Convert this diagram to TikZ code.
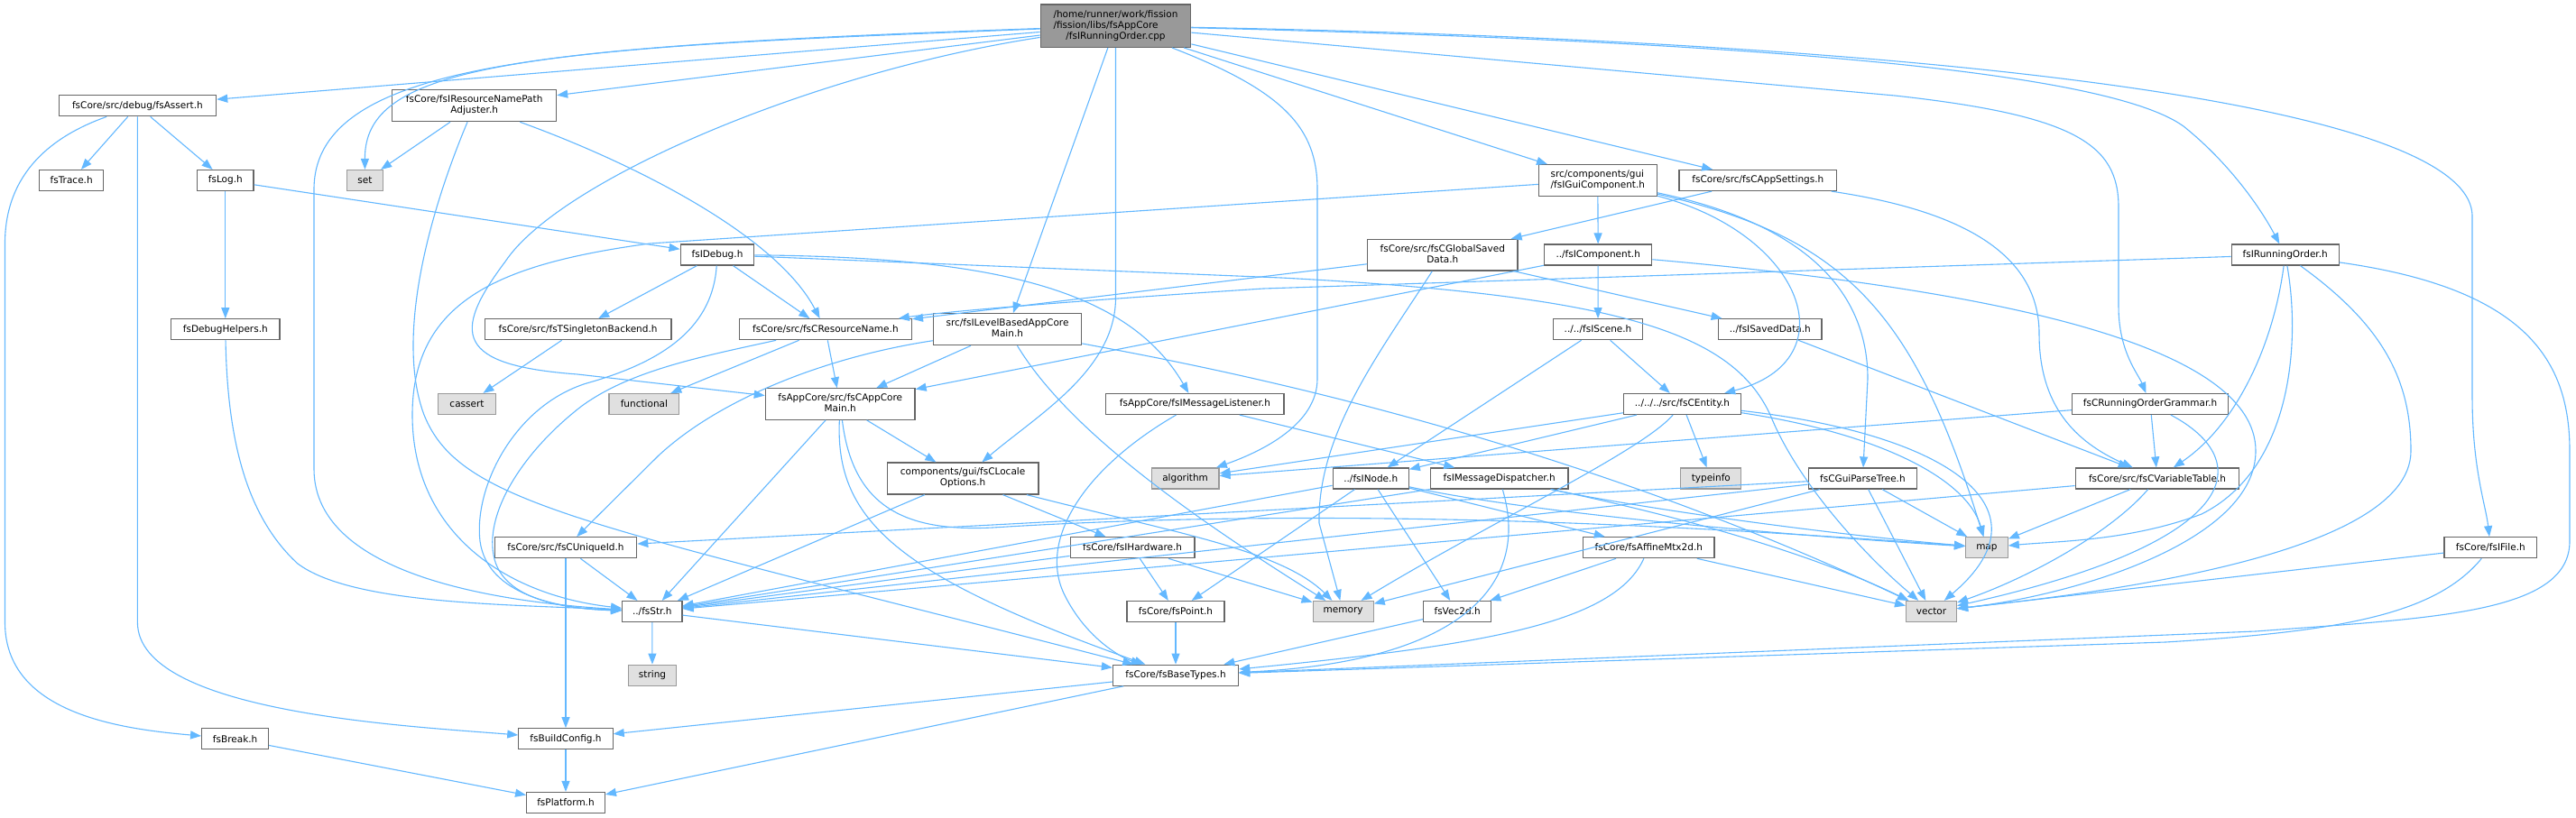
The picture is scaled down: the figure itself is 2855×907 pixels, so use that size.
\documentclass[tikz,border=0pt]{standalone}
\usepackage{fontspec}
\setmainfont{DejaVu Sans}
\usetikzlibrary{arrows.meta}
\definecolor{edgec}{HTML}{63B8FF}
\definecolor{bordc}{HTML}{666666}
\definecolor{extb}{HTML}{999999}
\definecolor{extf}{HTML}{E0E0E0}
\definecolor{mainf}{HTML}{999999}
\newcommand{\dxtwo}[2]{\begin{tabular}{@{}l@{}}#1\\\multicolumn{1}{@{}c@{}}{#2}\end{tabular}}
\newcommand{\dxthree}[3]{\begin{tabular}{@{}l@{}}#1\\#2\\\multicolumn{1}{@{}c@{}}{#3}\end{tabular}}
\begin{document}
\begin{tikzpicture}[x=1pt,y=-1pt,
  nd/.style={draw=bordc, fill=white, line width=1.2pt, minimum height=23pt, inner sep=0pt, font=\fontsize{10.5}{12}\selectfont},
  ext/.style={nd, fill=extf, draw=extb},
  mainnd/.style={nd, fill=mainf, draw=bordc},
  e/.style={draw=edgec, line width=1.1pt, -{Triangle[length=12pt,width=9pt]}}]
\fill[white] (0,0) rectangle (2855,907);
\useasboundingbox (0,0) rectangle (2855,907);

% nodes
\node[mainnd, minimum width=166.6pt, minimum height=47.3pt] (m) at (1236.5,28.7) {\dxthree{/home/runner/work/fission}{/fission/libs/fsAppCore}{/fsIRunningOrder.cpp}};
\node[nd, minimum width=174.5pt] (assert) at (152.4,117.3) {fsCore/src/debug/fsAssert.h};
\node[nd, minimum width=181.8pt, minimum height=35.4pt] (adj) at (525.7,117) {\dxtwo{fsCore/fsIResourceNamePath}{Adjuster.h}};
\node[nd, minimum width=71.2pt] (trace) at (79.2,200) {fsTrace.h};
\node[nd, minimum width=62.5pt] (log) at (249.8,200) {fsLog.h};
\node[ext, minimum width=39.4pt] (set) at (404.5,200) {set};
\node[nd, minimum width=120.3pt] (dbgh) at (249.8,365.2) {fsDebugHelpers.h};
\node[nd, minimum width=206.8pt] (tsb) at (640.6,365.2) {fsCore/src/fsTSingletonBackend.h};
\node[ext, minimum width=63.3pt] (cassert) at (517.5,448) {cassert};
\node[ext, minimum width=77.8pt] (func) at (713.9,448) {functional};
\node[nd, minimum width=81.7pt] (idbg) at (795,282.5) {fsIDebug.h};
\node[nd, minimum width=191pt] (rn) at (914.9,365.2) {fsCore/src/fsCResourceName.h};
\node[nd, minimum width=164.3pt, minimum height=35pt] (lbm) at (1116.5,365.2) {\dxtwo{src/fsILevelBasedAppCore}{Main.h}};
\node[nd, minimum width=165.7pt, minimum height=34.5pt] (acm) at (931.2,448) {\dxtwo{fsAppCore/src/fsCAppCore}{Main.h}};
\node[nd, minimum width=197.3pt] (iml) at (1324.4,448) {fsAppCore/fsIMessageListener.h};
\node[nd, minimum width=130.9pt, minimum height=34.6pt] (gui) at (1770.8,200) {\dxtwo{src/components/gui}{/fsIGuiComponent.h}};
\node[nd, minimum width=174.5pt] (aps) at (1948.3,200) {fsCore/src/fsCAppSettings.h};
\node[nd, minimum width=166.2pt, minimum height=34.7pt] (cgsd) at (1598.8,282.7) {\dxtwo{fsCore/src/fsCGlobalSaved}{Data.h}};
\node[nd, minimum width=119pt] (comp) at (1771.2,282.5) {../fsIComponent.h};
\node[nd, minimum width=99.2pt] (scene) at (1771,365.2) {../../fsIScene.h};
\node[nd, minimum width=114.3pt] (saved) at (1961.8,365.2) {../fsISavedData.h};
\node[nd, minimum width=130pt] (ent) at (1864.4,448) {../../../src/fsCEntity.h};
\node[nd, minimum width=118.9pt] (iro) at (2532.7,282.5) {fsIRunningOrder.h};
\node[nd, minimum width=173.4pt] (grm) at (2383.1,448) {fsCRunningOrderGrammar.h};
\node[nd, minimum width=157.5pt] (uid) at (627,607.2) {fsCore/src/fsCUniqueId.h};
\node[nd, minimum width=66.4pt] (str) at (722.8,678) {../fsStr.h};
\node[ext, minimum width=53.1pt] (string) at (723,748.7) {string};
\node[nd, minimum width=73.9pt] (brk) at (260.6,819.2) {fsBreak.h};
\node[nd, minimum width=104.3pt] (bcfg) at (627,819.2) {fsBuildConfig.h};
\node[nd, minimum width=86.7pt] (plat) at (627,890) {fsPlatform.h};
\node[nd, minimum width=167.6pt, minimum height=35pt] (loc) at (1067.1,530.5) {\dxtwo{components/gui/fsCLocale}{Options.h}};
\node[ext, minimum width=74.8pt] (alg) at (1313.6,530.5) {algorithm};
\node[nd, minimum width=137.8pt] (hw) at (1255.1,607.2) {fsCore/fsIHardware.h};
\node[nd, minimum width=107.9pt] (pt) at (1303,678) {fsCore/fsPoint.h};
\node[nd, minimum width=139.1pt] (bt) at (1303,748.7) {fsCore/fsBaseTypes.h};
\node[nd, minimum width=84.1pt] (inode) at (1519.2,530.5) {../fsINode.h};
\node[nd, minimum width=152.4pt] (imd) at (1661.7,530.5) {fsIMessageDispatcher.h};
\node[ext, minimum width=67pt] (typeinfo) at (1896.3,530.5) {typeinfo};
\node[nd, minimum width=120.4pt] (gpt) at (2064.4,530.5) {fsCGuiParseTree.h};
\node[nd, minimum width=145.5pt] (amtx) at (1827.3,607.2) {fsCore/fsAffineMtx2d.h};
\node[ext, minimum width=67pt] (mem) at (1488.6,678) {memory};
\node[nd, minimum width=74.8pt] (vec2) at (1615.1,678) {fsVec2d.h};
\node[ext, minimum width=55.9pt] (vec) at (2140.5,678) {vector};
\node[nd, minimum width=181.5pt] (vtab) at (2391,530.5) {fsCore/src/fsCVariableTable.h};
\node[ext, minimum width=46.7pt] (map) at (2201.9,607.2) {map};
\node[nd, minimum width=102.6pt] (file) at (2760.3,607.2) {fsCore/fsIFile.h};

% main edges
\draw[e] (m) -- (assert);
\draw[e] (m) -- (adj);
\draw[e] (m) .. controls (560,52) and (404,75) .. (set);
\draw[e] (m) .. controls (650,52) and (348,60) .. (348,210) -- (348,520) .. controls (348,640) and (560,668) .. (str);
\draw[e] (m) .. controls (900,80) and (620,200) .. (560,290) .. controls (500,370) and (505,405) .. (640,415) -- (acm);
\draw[e] (m) -- (lbm);
\draw[e] (m) -- (1236.5,330) .. controls (1236.5,410) and (1150,460) .. (loc);
\draw[e] (m) .. controls (1420,100) and (1460,140) .. (1460,210) -- (1460,420) .. controls (1460,470) and (1400,500) .. (alg);
\draw[e] (m) -- (gui);
\draw[e] (m) -- (aps);
\draw[e] (m) .. controls (1900,45) and (2330,75) .. (2420,140) .. controls (2470,180) and (2505,230) .. (iro);
\draw[e] (m) .. controls (2100,45) and (2740,110) .. (2740,240) -- (2740,440) .. controls (2740,520) and (2755,560) .. (file);
\draw[e] (m) -- (2100,106) .. controls (2300,128) and (2348,160) .. (2348,230) -- (2348,340) .. controls (2348,390) and (2370,415) .. (grm);

% left part
\draw[e] (assert) -- (trace);
\draw[e] (assert) -- (log);
\draw[e] (assert) -- (152.4,690) .. controls (152.4,790) and (450,805) .. (bcfg);
\draw[e] (assert) .. controls (60,150) and (5.5,190) .. (5.5,270) -- (5.5,690) .. controls (5.5,790) and (130,808) .. (brk);
\draw[e] (log) -- (dbgh);
\draw[e] (log) -- (idbg);
\draw[e] (dbgh) .. controls (252,480) and (270,570) .. (330,625) .. controls (390,670) and (560,670) .. (str);
\draw[e] (adj) -- (set);
\draw[e] (adj) .. controls (700,180) and (860,260) .. (rn);
\draw[e] (adj) .. controls (470,250) and (440,380) .. (470,460) .. controls (510,560) and (650,580) .. (bt);
\draw[e] (idbg) -- (tsb);
\draw[e] (idbg) .. controls (790,360) and (740,400) .. (650,425) .. controls (570,450) and (525,540) .. (532,600) .. controls (540,660) and (620,675) .. (str);
\draw[e] (idbg) -- (rn);
\draw[e] (idbg) .. controls (1100,285) and (1250,320) .. (iml);
\draw[e] (idbg) -- (1420,308) .. controls (1800,328) and (1920,370) .. (1962,460) .. controls (1990,530) and (2060,610) .. (vec);
\draw[e] (rn) .. controls (780,395) and (700,410) .. (645,450) .. controls (580,500) and (535,570) .. (548,620) .. controls (560,665) and (625,675) .. (str);
\draw[e] (rn) -- (func);
\draw[e] (rn) -- (acm);
\draw[e] (tsb) -- (cassert);

% middle
\draw[e] (lbm) -- (acm);
\draw[e] (lbm) .. controls (920,395) and (800,440) .. (730,505) -- (uid);
\draw[e] (lbm) .. controls (1180,470) and (1300,560) .. (mem);
\draw[e] (lbm) .. controls (1300,400) and (1700,470) .. (vec);
\draw[e] (acm) -- (loc);
\draw[e] (acm) -- (str);
\draw[e] (acm) .. controls (925,580) and (1000,640) .. (bt);
\draw[e] (acm) .. controls (945,560) and (1000,590) .. (1100,585) .. controls (1500,560) and (1900,585) .. (map);
\draw[e] (loc) -- (str);
\draw[e] (loc) -- (hw);
\draw[e] (loc) .. controls (1300,590) and (1420,610) .. (mem);
\draw[e] (hw) -- (str);
\draw[e] (hw) -- (pt);
\draw[e] (hw) -- (mem);
\draw[e] (pt) -- (bt);
\draw[e] (uid) -- (str);
\draw[e] (uid) -- (bcfg);
\draw[e] (str) -- (string);
\draw[e] (str) -- (bt);
\draw[e] (bt) -- (bcfg);
\draw[e] (bt) -- (plat);
\draw[e] (bcfg) -- (plat);
\draw[e] (brk) -- (plat);
\draw[e] (iml) -- (imd);
\draw[e] (iml) .. controls (1200,520) and (1150,600) .. (1180,660) .. controls (1205,710) and (1245,730) .. (bt);
\draw[e] (imd) -- (str);
\draw[e] (imd) .. controls (1700,660) and (1600,735) .. (bt);
\draw[e] (imd) .. controls (1800,560) and (2000,590) .. (map);
\draw[e] (imd) .. controls (1850,570) and (2000,610) .. (vec);
\draw[e] (inode) -- (str);
\draw[e] (inode) -- (pt);
\draw[e] (inode) -- (vec2);
\draw[e] (inode) -- (amtx);
\draw[e] (inode) .. controls (1700,570) and (2000,595) .. (map);
\draw[e] (amtx) -- (vec2);
\draw[e] (amtx) .. controls (1790,690) and (1650,715) .. (bt);
\draw[e] (amtx) -- (vec);
\draw[e] (vec2) -- (bt);

% right part
\draw[e] (ent) -- (alg);
\draw[e] (ent) -- (inode);
\draw[e] (ent) -- (typeinfo);
\draw[e] (ent) .. controls (1820,500) and (1650,580) .. (mem);
\draw[e] (ent) .. controls (2080,480) and (2180,530) .. (map);
\draw[e] (ent) .. controls (2150,480) and (2280,560) .. (vec);
\draw[e] (gpt) -- (str);
\draw[e] (gpt) -- (uid);
\draw[e] (gpt) -- (mem);
\draw[e] (gpt) -- (map);
\draw[e] (gpt) -- (vec);
\draw[e] (scene) -- (inode);
\draw[e] (scene) -- (ent);
\draw[e] (gui) -- (comp);
\draw[e] (gui) -- (720,270) .. controls (560,292) and (457,330) .. (457,460) .. controls (457,590) and (560,660) .. (str);
\draw[e] (gui) .. controls (2000,260) and (2050,400) .. (ent);
\draw[e] (gui) .. controls (2010,250) and (2070,330) .. (2070,420) -- (gpt);
\draw[e] (gui) .. controls (2040,262) and (2120,340) .. (map);
\draw[e] (comp) -- (acm);
\draw[e] (comp) -- (scene);
\draw[e] (comp) .. controls (2200,320) and (2500,380) .. (2500,500) .. controls (2500,600) and (2300,660) .. (vec);
\draw[e] (cgsd) -- (rn);
\draw[e] (cgsd) -- (saved);
\draw[e] (cgsd) .. controls (1530,390) and (1460,480) .. (1462,580) -- (mem);
\draw[e] (saved) -- (vtab);
\draw[e] (aps) -- (cgsd);
\draw[e] (aps) .. controls (2150,230) and (2260,270) .. (2260,370) .. controls (2260,450) and (2300,490) .. (vtab);
\draw[e] (iro) -- (1400,320) .. controls (1200,333) and (1050,345) .. (rn);
\draw[e] (iro) .. controls (2520,380) and (2480,470) .. (vtab);
\draw[e] (iro) .. controls (2550,380) and (2540,520) .. (2440,570) .. controls (2360,600) and (2280,600) .. (map);
\draw[e] (iro) .. controls (2640,360) and (2672,420) .. (2672,500) .. controls (2672,620) and (2300,660) .. (vec);
\draw[e] (iro) .. controls (2800,320) and (2848,400) .. (2848,500) -- (2848,600) .. controls (2848,680) and (2700,685) .. (2500,700) -- (bt);
\draw[e] (grm) -- (alg);
\draw[e] (grm) -- (vtab);
\draw[e] (grm) .. controls (2500,510) and (2490,600) .. (vec);
\draw[e] (vtab) -- (str);
\draw[e] (vtab) -- (map);
\draw[e] (vtab) .. controls (2340,590) and (2250,640) .. (vec);
\draw[e] (file) -- (vec);
\draw[e] (file) .. controls (2700,680) and (2600,700) .. (2400,712) -- (bt);
\end{tikzpicture}
\end{document}
